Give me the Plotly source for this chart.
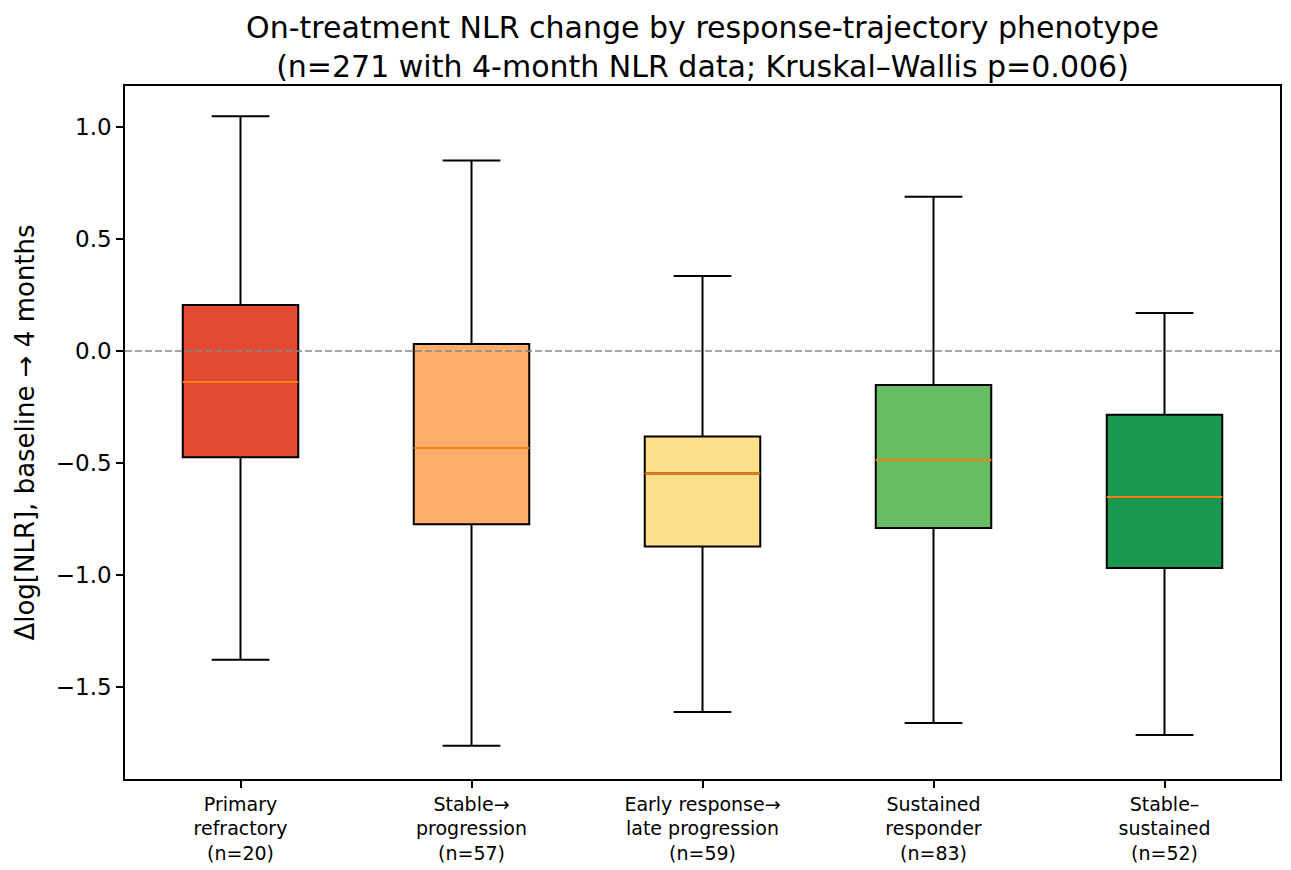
import plotly.graph_objects as go

# group labels and summary stats
groups = ["Primary<br>refractory<br>(n=20)",
          "Stable→<br>progression<br>(n=57)",
          "Early response→<br>late progression<br>(n=59)",
          "Sustained<br>responder<br>(n=83)",
          "Stable–<br>sustained<br>(n=52)"]
upper = [1.048, 0.850, 0.335, 0.688, 0.170]
q3 = [0.205, 0.031, -0.382, -0.152, -0.285]
median = [-0.138, -0.433, -0.547, -0.487, -0.652]
q1 = [-0.475, -0.774, -0.873, -0.790, -0.969]
lower = [-1.379, -1.763, -1.612, -1.661, -1.714]
colors = ["#e34a33", "#fdae6b", "#fee08b", "#66bd63", "#1a9850"]

BOX_W = 0.5
FONT = "DejaVu Sans"

fig = go.Figure()

for i in range(len(groups)):
    fig.add_trace(go.Box(
        x=[i], q1=[q1[i]], median=[median[i]], q3=[q3[i]],
        lowerfence=[lower[i]], upperfence=[upper[i]],
        width=BOX_W, whiskerwidth=0.5,
        fillcolor=colors[i],
        line=dict(color="black", width=2),
        boxpoints=False, showlegend=False, hoverinfo="skip"
    ))
    # orange median line, drawn over the box
    fig.add_trace(go.Scatter(
        x=[i - BOX_W / 2, i + BOX_W / 2], y=[median[i], median[i]],
        mode="lines", line=dict(color="#ff7f0e", width=2),
        showlegend=False, hoverinfo="skip"
    ))

fig.add_shape(type="line", xref="paper", x0=0, x1=1, yref="y", y0=0, y1=0,
              line=dict(color="#888888", width=1.5, dash="7px,3px"), layer="above")

# page body has an 8px margin, so the figure is 8px smaller than the window
fig.update_layout(
    width=1283, height=862,
    template="plotly_white",
    paper_bgcolor="white", plot_bgcolor="white",
    font=dict(family=FONT, color="black"),
    margin=dict(l=117, r=11, t=78, b=91, autoexpand=False),
    title=dict(
        text="On-treatment NLR change by response-trajectory phenotype<br>(n=271 with 4-month NLR data; Kruskal–Wallis p=0.006)",
        x=0.5, xanchor="center", xref="paper",
        yref="container", y=0.965, yanchor="top",
        font=dict(size=30, family=FONT, color="black")
    ),
    xaxis=dict(
        range=[-0.5, 4.5], tickmode="array", tickvals=list(range(len(groups))),
        ticktext=groups, tickfont=dict(size=19), showgrid=False, zeroline=False,
        showline=True, mirror=True, linecolor="black", linewidth=1.5,
        ticks="outside", ticklen=7, tickwidth=1.5, tickcolor="black",
        automargin=False
    ),
    yaxis=dict(
        range=[-1.911, 1.183], tickmode="array",
        tickvals=[-1.5, -1.0, -0.5, 0.0, 0.5, 1.0],
        ticktext=["−1.5", "−1.0", "−0.5", "0.0", "0.5", "1.0"],
        tickfont=dict(size=23), showgrid=False, zeroline=False,
        showline=True, mirror=True, linecolor="black", linewidth=1.5,
        ticks="outside", ticklen=7, tickwidth=1.5, tickcolor="black",
        automargin=False,
        title=dict(text="Δlog[NLR], baseline → 4 months", font=dict(size=26), standoff=14)
    ),
)

fig.write_html("out.html")
